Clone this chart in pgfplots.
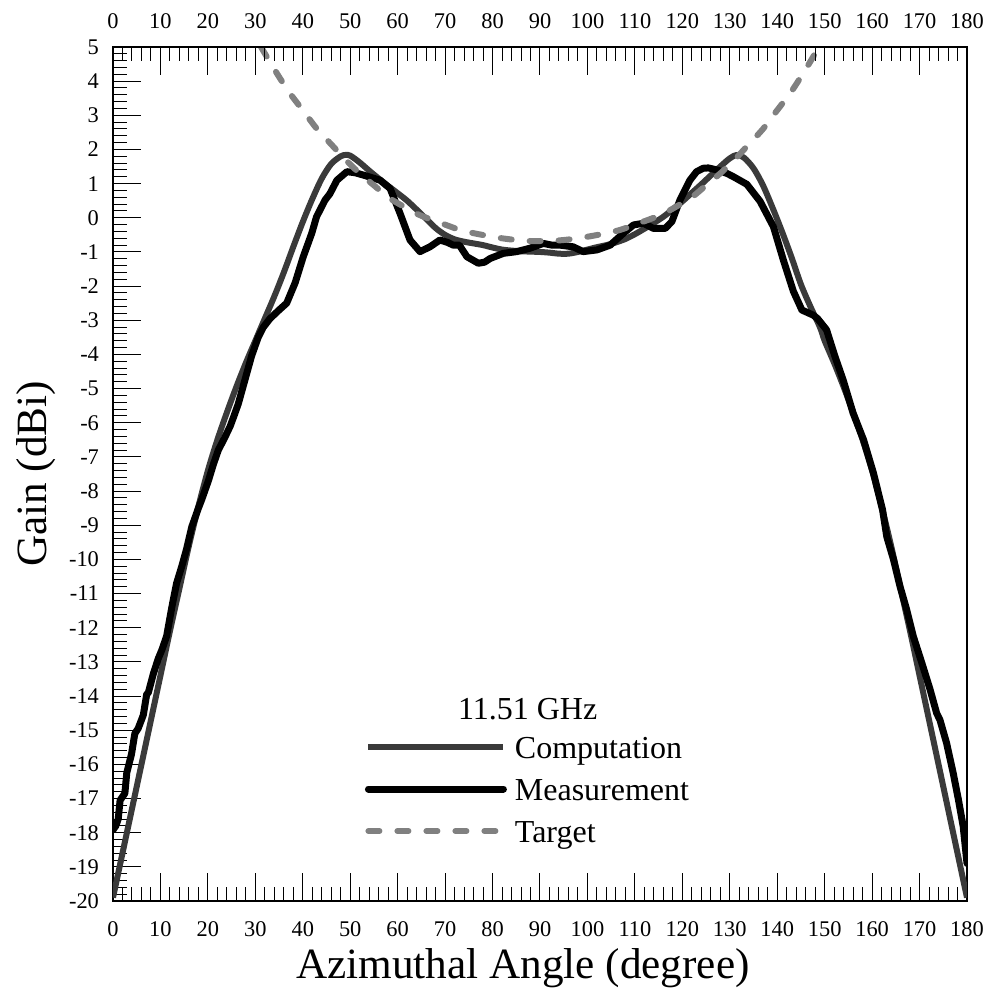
\documentclass[border=0pt]{standalone}
\usepackage{fontspec}
\setmainfont{Liberation Serif}
\usepackage{pgfplots}
\pgfplotsset{compat=1.18}
\definecolor{compgray}{HTML}{3A3A3A}
\definecolor{targetgray}{HTML}{808080}

\pgfplotstableread{
x y
0 -19.9
2 -18.6
4 -17.3
6 -16.0
8 -14.7
10 -13.4
12 -12.1
14 -10.85
16 -9.6
18 -8.45
20 -7.4
22 -6.5
24 -5.7
26 -4.95
28 -4.25
30 -3.6
32 -2.95
34 -2.3
36 -1.6
38 -0.85
40 -0.12
42 0.55
44 1.15
46 1.58
48 1.8
49 1.84
50 1.82
52 1.62
54 1.38
56 1.15
58 0.93
60 0.72
62 0.5
64 0.24
66 -0.03
68 -0.3
70 -0.5
72 -0.63
74 -0.7
76 -0.75
78 -0.8
80 -0.87
82 -0.93
84 -0.96
86 -0.98
88 -0.99
90 -1.0
92 -1.02
94 -1.05
96 -1.05
98 -1.0
100 -0.93
102 -0.86
104 -0.8
106 -0.72
108 -0.62
110 -0.48
112 -0.32
114 -0.15
116 0.03
118 0.25
120 0.48
122 0.73
124 0.98
126 1.24
128 1.5
130 1.74
131.5 1.84
133 1.76
135 1.45
137 0.95
139 0.3
141 -0.4
143 -1.15
145 -1.95
147 -2.6
149 -3.2
150 -3.6
152 -4.25
154 -4.95
156 -5.7
158 -6.5
160 -7.4
162 -8.45
164 -9.6
166 -10.85
168 -12.1
170 -13.4
172 -14.7
174 -16.0
176 -17.3
178 -18.6
180 -19.9
}\comptable

\pgfplotstableread{
x y
0 -17.92
0.6 -17.8
1.1 -17.6
1.5 -17.05
2.5 -16.85
2.9 -16.25
3.9 -15.7
4.6 -15.1
5.3 -14.95
6.0 -14.7
6.4 -14.55
7.1 -13.95
7.45 -13.9
8.5 -13.35
8.85 -13.2
9.55 -12.9
10.3 -12.65
11.3 -12.25
12.4 -11.4
13.4 -10.7
14.5 -10.2
15.5 -9.7
16.6 -9.05
18.0 -8.5
18.7 -8.25
20.1 -7.7
21.2 -7.2
22.2 -6.8
23.5 -6.45
24.7 -6.1
25.5 -5.8
26.4 -5.45
27.8 -4.75
29.2 -4.05
30.6 -3.5
31.7 -3.2
33.1 -2.95
35.0 -2.7
36.6 -2.5
38.4 -1.9
40.1 -1.14
41.9 -0.45
42.9 0.03
44.7 0.52
45.7 0.7
47.2 1.1
49.3 1.35
51 1.32
52.8 1.25
56.3 1.1
58.4 0.86
60.5 0.13
62.6 -0.65
64.7 -0.99
66.8 -0.85
68.9 -0.65
70.5 -0.72
71.7 -0.8
73 -0.8
74.6 -1.14
77 -1.33
78.3 -1.3
79.5 -1.19
82.3 -1.04
85.1 -0.99
87.9 -0.89
90.7 -0.75
92.5 -0.8
94.2 -0.8
97 -0.85
99.1 -0.99
102 -0.94
104.8 -0.8
107.6 -0.45
109.7 -0.21
111.8 -0.16
113.9 -0.31
116.4 -0.31
117.8 -0.11
119.5 0.52
121.6 1.1
123 1.35
124.4 1.45
125.5 1.46
127.3 1.4
129.4 1.3
130.8 1.2
133.6 0.98
136.4 0.48
139.2 -0.26
141.3 -1.24
143.4 -2.15
145.2 -2.7
147.6 -2.85
148.5 -2.95
150.4 -3.28
152.2 -4.07
153.9 -4.75
156 -5.72
158.2 -6.5
160.3 -7.48
162.2 -8.55
163.1 -9.34
164.5 -10.0
165.9 -10.8
167.3 -11.48
168.7 -12.26
170.5 -13.04
172.2 -13.8
173.6 -14.5
174.3 -14.7
175.7 -15.38
177.1 -16.26
178.2 -17.04
179.2 -17.82
180 -18.9
}\meastable

\pgfplotstableread{
x y
31.2 5.0
34 4.35
37 3.7
40 3.15
43 2.6
46 2.15
49 1.7
52 1.3
55 0.95
58 0.6
61 0.35
64 0.12
67 -0.05
70 -0.2
73 -0.35
76 -0.45
79 -0.53
82 -0.6
85 -0.65
88 -0.68
90 -0.68
92 -0.68
95 -0.65
98 -0.6
101 -0.53
104 -0.45
107 -0.35
110 -0.2
113 -0.05
116 0.12
119 0.35
122 0.6
125 0.95
128 1.3
131 1.7
134 2.15
137 2.6
140 3.15
143 3.7
146 4.35
148.8 5.0
}\targettable

\begin{document}
\begin{tikzpicture}
\pgfplotsset{
  common/.style={
    width=427pt, height=427pt, scale only axis,
    xmin=0, xmax=180, ymin=-20, ymax=5,
    xtick={0,10,...,180}, ytick={-20,-19,...,5},
    minor x tick num=4, minor y tick num=4,
    tick align=inside,
    major tick length=14pt, minor tick length=7pt,
    every tick/.style={black, line width=0.5pt},
    tick label style={font=\fontsize{11.2}{13}\selectfont},
    /pgf/number format/assume math mode=true,
    axis line style={line width=0.8pt},
  }
}
\begin{axis}[common,
  xtick pos=bottom, ytick pos=left,
  xticklabel style={yshift=-7pt},
  yticklabel style={xshift=-3.5pt},
  xlabel={Azimuthal Angle (degree)}, ylabel={Gain (dBi)},
  label style={font=\fontsize{21.6}{26}\selectfont},
  xlabel style={at={(rel axis cs:0.48,-0.0907)}, anchor=base},
  ylabel style={at={(rel axis cs:-0.0773,0.5)}, anchor=base},
  legend style={at={(axis cs:53.1,-15.17)}, anchor=north west, draw=none, fill=none,
    inner sep=0pt, outer sep=0pt, font=\fontsize{16}{19}\selectfont,
    row sep=6pt, column sep=4pt,
    nodes={inner sep=0pt, text height=11pt, text depth=4pt, anchor=base west}},
  legend cell align=left,
  legend image code/.code={\draw[#1] (0pt,5.5pt) -- (67.5pt,5.5pt);},
]
\addplot[compgray, line width=3pt, smooth, tension=0.5, line join=round] table {\comptable};
\addlegendentry{Computation}
\addplot[black, line width=3.5pt, line join=round, line cap=round] table {\meastable};
\addlegendentry{Measurement}
\addplot[targetgray, line width=3pt, smooth, line cap=round, dash pattern=on 5.5pt off 9pt] table {\targettable};
\addlegendentry{Target}
\node[anchor=base, font=\fontsize{16}{19}\selectfont] at (axis cs:87.4,-14.70) {11.51 GHz};
\end{axis}
\begin{axis}[common, axis x line*=top, hide y axis, xticklabel style={yshift=5.5pt}]
\end{axis}
\pgfresetboundingbox
\path[use as bounding box] (-56.5pt,-45.5pt) rectangle (438.5pt,450.5pt);
\end{tikzpicture}
\end{document}
